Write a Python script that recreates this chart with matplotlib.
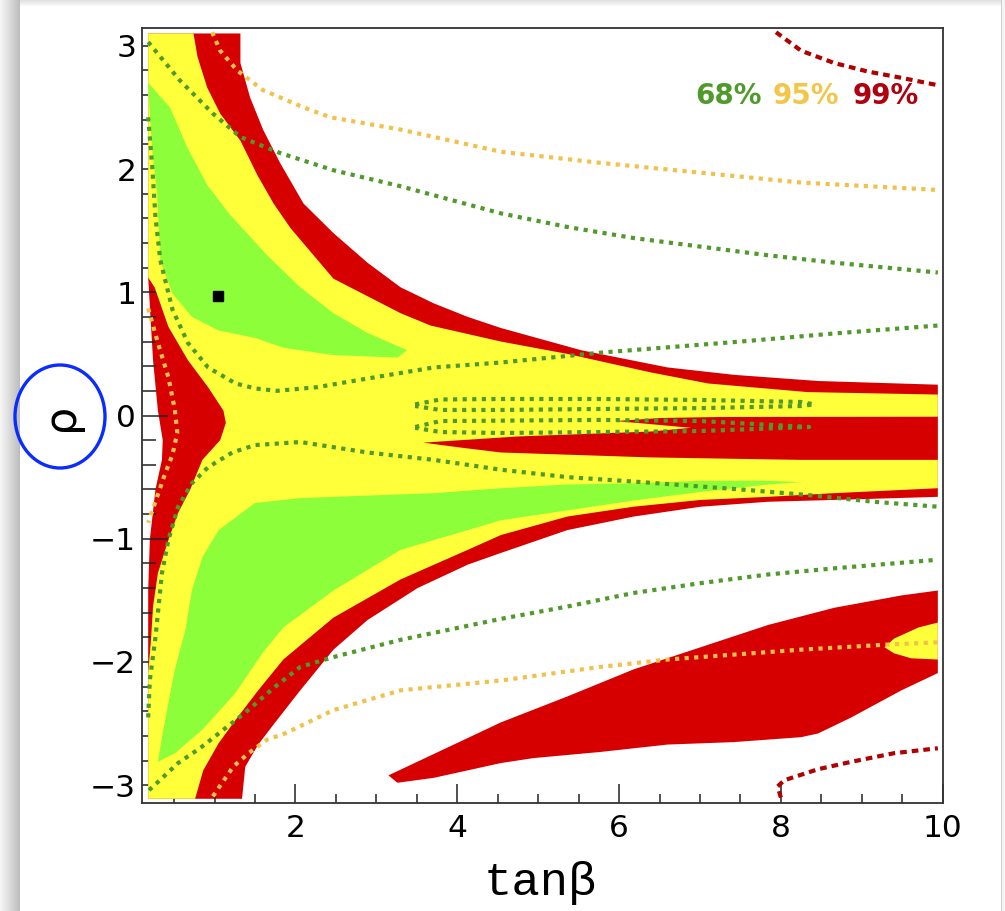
import numpy as np
import matplotlib
matplotlib.use("Agg")
import matplotlib.pyplot as plt
from matplotlib.patches import Ellipse, Rectangle
from matplotlib.ticker import MultipleLocator

plt.rcParams['font.family'] = ['DejaVu Sans']
plt.rcParams['axes.unicode_minus'] = True

# ---------------- data (tanβ, ρ) ----------------
# 99% allowed region (outer boundary)
red_outer_x = [0.18, 1.32, 1.32, 1.44, 1.60, 1.81, 2.10, 2.47, 2.89, 3.30, 3.71, 4.13, 4.54, 5.53, 6.60, 7.42, 8.46, 9.94,
               9.94, 8.66, 7.84, 7.01, 6.18, 5.36, 4.54, 4.13, 3.51, 2.89, 2.47, 2.06, 1.75, 1.54, 1.38, 1.34,
               0.18, 0.18, 0.20, 0.27, 0.35, 0.36, 0.30, 0.24, 0.18]
red_outer_y = [3.10, 3.10, 2.86, 2.58, 2.32, 2.05, 1.72, 1.48, 1.24, 1.04, 0.91, 0.80, 0.71, 0.53, 0.39, 0.33, 0.28, 0.25,
               -0.66, -0.685, -0.70, -0.74, -0.82, -0.93, -1.115, -1.21, -1.40, -1.66, -1.90, -2.23, -2.49, -2.67, -2.85, -3.11,
               -3.11, -1.42, -1.01, -0.60, -0.36, -0.20, 0.04, 0.45, 1.12]

# 95% allowed region
yellow_x = [0.18, 0.74, 0.79, 0.91, 1.07, 1.32, 1.53, 1.73, 1.94, 2.47, 3.30, 3.67, 4.54, 5.36, 6.39, 7.10, 8.33, 9.94,
            9.94, 8.66, 7.84, 7.01, 6.18, 5.36, 4.54, 4.13, 3.30, 2.47, 1.85, 1.54, 1.26, 1.05, 0.86, 0.76,
            0.18, 0.18, 0.215, 0.24, 0.30, 0.43, 0.55, 0.70, 0.85, 1.07, 1.14, 1.11, 0.92, 0.67, 0.43, 0.26, 0.18]
yellow_y = [3.10, 3.10, 2.91, 2.66, 2.45, 2.23, 1.95, 1.72, 1.52, 1.11, 0.83, 0.73, 0.60, 0.50, 0.35, 0.26, 0.19, 0.17,
            -0.59, -0.63, -0.66, -0.685, -0.74, -0.82, -0.97, -1.09, -1.33, -1.64, -1.98, -2.23, -2.47, -2.66, -2.88, -3.11,
            -3.11, -2.09, -1.82, -1.55, -1.28, -1.01, -0.79, -0.60, -0.36, -0.20, -0.06, 0.04, 0.23, 0.45, 0.72, 1.04, 1.12]

# 99%-only band inside the 95% funnel
red_center_x = [3.58, 4.75, 6.39, 6.89, 6.39, 5.96, 6.52, 7.26, 9.94, 9.94, 8.25, 6.39, 4.54, 4.04]
red_center_y = [-0.22, -0.17, -0.13, -0.10, -0.07, -0.045, -0.02, -0.012, -0.01, -0.36, -0.36, -0.34, -0.30, -0.26]

# 68% allowed regions
green_up_x = [0.18, 0.45, 0.66, 0.91, 1.19, 1.65, 2.06, 2.47, 2.89, 3.38, 3.26, 2.47, 1.85, 1.50, 1.05, 0.72, 0.48, 0.33, 0.29, 0.23, 0.19]
green_up_y = [2.70, 2.50, 2.18, 1.87, 1.63, 1.30, 1.04, 0.83, 0.67, 0.53, 0.47, 0.49, 0.55, 0.63, 0.69, 0.80, 0.99, 1.26, 1.80, 2.15, 2.56]
green_lo_x = [0.30, 0.35, 0.43, 0.51, 0.64, 0.72, 0.85, 1.05, 1.50, 2.06, 2.47, 3.71, 4.54, 5.36, 6.18, 7.01, 7.84, 8.25,
              7.84, 7.01, 6.18, 5.36, 4.54, 4.13, 3.30, 2.47, 1.85, 1.59, 1.26, 0.85, 0.51]
green_lo_y = [-2.81, -2.61, -2.33, -2.06, -1.74, -1.42, -1.15, -0.93, -0.71, -0.67, -0.66, -0.63, -0.59, -0.56, -0.55, -0.53, -0.53, -0.54,
              -0.56, -0.62, -0.69, -0.77, -0.85, -0.93, -1.09, -1.42, -1.72, -1.93, -2.25, -2.55, -2.74]

# isolated 99% island (bottom right) with 95% spot
blob_x = [3.15, 4.54, 5.36, 6.18, 7.01, 7.84, 8.66, 9.49, 9.94, 9.94, 9.49, 8.87, 8.46, 8.25, 7.42, 6.60, 5.77, 4.94, 4.54, 3.71, 3.26]
blob_y = [-2.92, -2.49, -2.28, -2.06, -1.88, -1.70, -1.56, -1.46, -1.42, -2.09, -2.23, -2.45, -2.58, -2.61, -2.65, -2.67, -2.73, -2.78, -2.82, -2.94, -2.98]
island_x = [9.94, 9.70, 9.40, 9.28, 9.40, 9.61, 9.94]
island_y = [-1.68, -1.72, -1.81, -1.88, -1.93, -1.97, -1.98]

# dashed contours of the other fit
g1_x = [0.18, 0.57, 0.98, 1.32, 1.81, 2.47, 3.30, 4.54, 5.36, 6.18, 7.01, 7.84, 8.66, 9.94]
g1_y = [3.03, 2.72, 2.45, 2.26, 2.13, 1.99, 1.86, 1.64, 1.53, 1.44, 1.37, 1.30, 1.24, 1.16]
g2_x = [0.18, 0.23, 0.27, 0.33, 0.48, 0.67, 0.92, 1.26, 1.50, 1.77, 2.27, 2.89, 3.71, 4.54, 5.77, 7.50, 8.74, 9.94]
g2_y = [2.42, 2.02, 1.61, 1.26, 0.86, 0.59, 0.39, 0.26, 0.22, 0.20, 0.23, 0.30, 0.39, 0.43, 0.51, 0.60, 0.67, 0.73]
g3_x = [0.18, 0.20, 0.27, 0.35, 0.43, 0.55, 0.72, 0.92, 1.22, 1.50, 2.06, 2.89, 3.71, 4.54, 5.36, 6.27, 7.50, 8.33, 9.15, 9.94]
g3_y = [-2.45, -2.15, -1.80, -1.28, -1.01, -0.74, -0.55, -0.42, -0.30, -0.24, -0.215, -0.30, -0.36, -0.44, -0.50, -0.54, -0.60, -0.645, -0.70, -0.74]
g4_x = [0.19, 0.29, 0.55, 0.82, 1.38, 1.75, 2.06, 2.47, 3.30, 4.54, 5.36, 6.18, 7.01, 7.84, 8.66, 9.94]
g4_y = [-3.04, -2.98, -2.82, -2.70, -2.41, -2.20, -2.04, -1.96, -1.82, -1.65, -1.55, -1.44, -1.36, -1.29, -1.24, -1.17]
loop1_x = [3.48, 3.79, 4.54, 5.77, 7.01, 8.25, 8.41, 8.25, 7.01, 5.77, 4.54, 3.79, 3.48]
loop1_y = [0.09, 0.13, 0.134, 0.134, 0.126, 0.11, 0.09, 0.077, 0.06, 0.053, 0.045, 0.045, 0.077]
loop2_x = [3.48, 3.79, 5.77, 7.01, 8.35, 7.01, 5.77, 4.54, 3.79, 3.48]
loop2_y = [-0.093, -0.045, -0.036, -0.045, -0.093, -0.126, -0.134, -0.142, -0.134, -0.10]
y1_x = [0.97, 1.07, 1.28, 1.60, 2.10, 2.43, 3.30, 4.54, 5.77, 7.01, 8.25, 9.94]
y1_y = [3.11, 2.96, 2.80, 2.64, 2.50, 2.42, 2.32, 2.14, 2.05, 1.97, 1.89, 1.83]
y2_x = [0.18, 0.30, 0.43, 0.51, 0.54, 0.48, 0.39, 0.29, 0.18]
y2_y = [0.87, 0.59, 0.31, 0.045, -0.14, -0.32, -0.47, -0.66, -0.87]
y3_x = [0.98, 1.23, 1.42, 1.65, 1.87, 2.47, 3.30, 4.54, 5.77, 6.60, 7.42, 8.25, 9.28, 9.94]
y3_y = [-3.09, -2.85, -2.74, -2.63, -2.58, -2.39, -2.23, -2.15, -2.04, -1.98, -1.94, -1.90, -1.86, -1.84]
r1_x = [7.94, 8.25, 8.66, 9.08, 9.49, 9.94]
r1_y = [3.11, 2.96, 2.86, 2.79, 2.74, 2.68]
r2_x = [8.00, 7.96, 8.04, 8.46, 8.87, 9.40, 9.94]
r2_y = [-3.10, -3.01, -2.96, -2.87, -2.81, -2.74, -2.70]

best_fit = (1.045, 0.97)
labels = ['68%', '95%', '99%']
tick_x = [2, 4, 6, 8, 10]

# ---------------- styling ----------------
RED = '#d60000'
YELLOW = '#ffff3a'
GREEN = '#8cff3a'
DG = '#4f9a2a'
OR = '#f0c24a'
DR = '#b00000'

fig = plt.figure(figsize=(10.05, 9.11), dpi=100, facecolor='white')

# screenshot card shadow
bg = fig.add_axes([0, 0, 1, 1], zorder=-10)
bg.axis('off')
grad = np.linspace(0.96, 0.74, 20)[None, :]
bg.imshow(grad, extent=(0, 20, 911, 0), cmap='gray', vmin=0, vmax=1, aspect='auto')
tgrad = np.linspace(0.88, 0.97, 6)[:, None]
bg.imshow(tgrad, extent=(20, 1005, 6, 0), cmap='gray', vmin=0, vmax=1, aspect='auto')
bg.add_patch(Rectangle((1001, 0), 4, 911, color='#f4f4f4', lw=0))
bg.add_patch(Rectangle((1001, 0), 1.2, 911, color='#cfcfcf', lw=0))
bg.set_xlim(0, 1005); bg.set_ylim(911, 0)

ax = fig.add_axes([0.1410, 0.1189, 0.7970, 0.8500])
ax.fill(red_outer_x, red_outer_y, color=RED, lw=0, zorder=1)
ax.fill(yellow_x, yellow_y, color=YELLOW, lw=0, zorder=2)
ax.fill(red_center_x, red_center_y, color=RED, lw=0, zorder=3)
ax.fill(green_up_x, green_up_y, color=GREEN, lw=0, zorder=3)
ax.fill(green_lo_x, green_lo_y, color=GREEN, lw=0, zorder=3)
ax.fill(blob_x, blob_y, color=RED, lw=0, zorder=2)
ax.fill(island_x, island_y, color=YELLOW, lw=0, zorder=3)

dash_kw = dict(lw=3.0, dashes=(1.0, 1.3), zorder=5)
for xs, ys in [(g1_x, g1_y), (g2_x, g2_y), (g3_x, g3_y), (g4_x, g4_y), (loop1_x, loop1_y), (loop2_x, loop2_y)]:
    ax.plot(xs, ys, color=DG, **dash_kw)
for xs, ys in [(y1_x, y1_y), (y2_x, y2_y), (y3_x, y3_y)]:
    ax.plot(xs, ys, color=OR, **dash_kw)
for xs, ys in [(r1_x, r1_y), (r2_x, r2_y)]:
    ax.plot(xs, ys, color=DR, lw=3.0, dashes=(1.6, 1.2), zorder=5)

ax.plot([best_fit[0]], [best_fit[1]], marker='s', color='black', ms=7.5, zorder=6)

ax.set_xlim(0.1, 10)
ax.set_ylim(-np.pi, np.pi)
ax.set_xticks(tick_x)
ax.xaxis.set_minor_locator(MultipleLocator(0.5))
ax.yaxis.set_major_locator(MultipleLocator(1))
ax.yaxis.set_minor_locator(MultipleLocator(0.2))
ax.tick_params(which='both', direction='in', top=False, right=False, color='#222222')
ax.tick_params(axis='y', which='major', length=19, width=1.1, labelsize=22.5, pad=4)
ax.tick_params(axis='y', which='minor', length=10, width=1.1)
ax.tick_params(axis='x', which='major', length=14, width=1.1, labelsize=22.5, pad=8)
ax.tick_params(axis='x', which='minor', length=6.5, width=1.1)
for s in ax.spines.values():
    s.set_linewidth(1.3)
    s.set_color('#333333')
    s.set_zorder(10)

# legend words
for lab, xp, col in zip(labels, [0.691, 0.788, 0.888], [DG, '#f2c648', '#b0000f']):
    ax.text(xp, 0.902, lab, transform=ax.transAxes, color=col, fontsize=20,
            fontweight='bold', family=['DejaVu Sans'], ha='left', va='baseline', zorder=7)

# axis labels
fig.text(540 / 1005, 1 - 895 / 911, 'tanβ', family=['Liberation Mono', 'DejaVu Sans Mono'],
         fontsize=34, ha='center', va='baseline')
fig.text(60 / 1005, 1 - 417 / 911, 'ρ', family=['DejaVu Sans'], fontsize=32, rotation=90,
         ha='center', va='center')
fig.patches.append(Ellipse((60 / 1005, 1 - 416.5 / 911), 90 / 1005, 103 / 911, transform=fig.transFigure,
                           fill=False, edgecolor='#0a2cff', lw=2.4))

fig.savefig('out.png', dpi=100, facecolor='white')
